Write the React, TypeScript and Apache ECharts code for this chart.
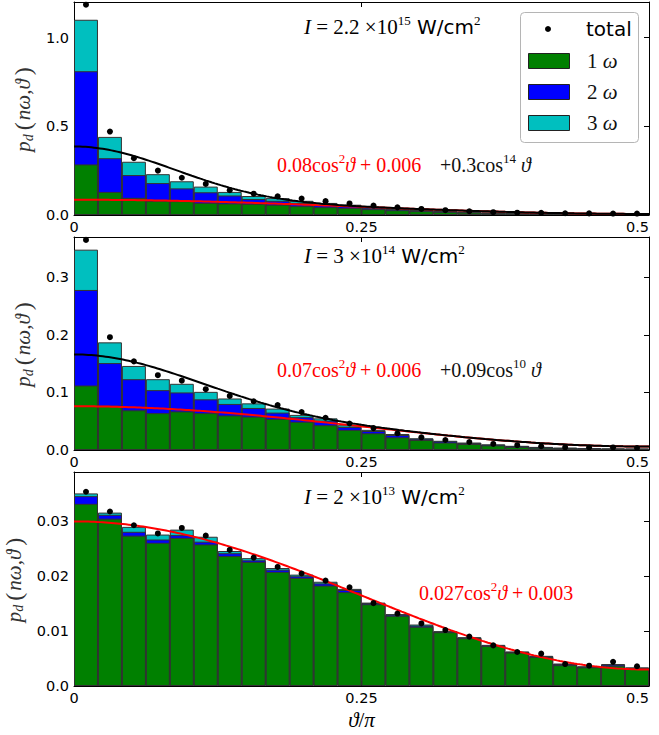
import React, { useEffect, useRef } from "react";
import * as echarts from "echarts";

// ---- data ----
const NBINS = 24; // bins over theta/pi in [0, 0.5]
const thetaBins = Array.from({ length: NBINS }, (_, k) => ((k + 0.5) * 0.5) / NBINS);

// Panel 1: I = 2.2e15 W/cm^2
const omega1_p1 = [0.285, 0.13, 0.097, 0.08, 0.078, 0.068, 0.065, 0.062, 0.058, 0.05, 0.044, 0.04, 0.033, 0.027, 0.022, 0.018, 0.014, 0.011, 0.009, 0.008, 0.007, 0.0065, 0.006, 0.006];
const omega2_p1 = [0.525, 0.19, 0.128, 0.1, 0.072, 0.06, 0.045, 0.028, 0.022, 0.018, 0.012, 0.01, 0.008, 0.007, 0.006, 0.004, 0.003, 0.002, 0.002, 0.0015, 0.001, 0.001, 0.0008, 0.0007];
const omega3_p1 = [0.29, 0.12, 0.075, 0.05, 0.04, 0.032, 0.02, 0.017, 0.015, 0.012, 0.012, 0.008, 0.006, 0.005, 0.004, 0.003, 0.002, 0.002, 0.001, 0.001, 0.001, 0.0005, 0.0005, 0.0004];
const total_p1 = [1.185, 0.47, 0.32, 0.25, 0.21, 0.175, 0.14, 0.12, 0.105, 0.093, 0.078, 0.065, 0.053, 0.043, 0.034, 0.027, 0.021, 0.016, 0.013, 0.012, 0.01, 0.009, 0.008, 0.008];

// Panel 2: I = 3e14 W/cm^2
const omega1_p2 = [0.112, 0.077, 0.069, 0.064, 0.067, 0.064, 0.06, 0.058, 0.054, 0.049, 0.043, 0.035, 0.029, 0.022, 0.0174, 0.013, 0.0104, 0.008, 0.0055, 0.004, 0.003, 0.0025, 0.002, 0.002];
const omega2_p2 = [0.166, 0.074, 0.054, 0.04, 0.033, 0.024, 0.02, 0.015, 0.011, 0.008, 0.008, 0.005, 0.004, 0.004, 0.002, 0.002, 0.0016, 0.0012, 0.0012, 0.001, 0.0008, 0.0007, 0.0006, 0.0004];
const omega3_p2 = [0.07, 0.036, 0.023, 0.019, 0.015, 0.013, 0.0095, 0.008, 0.007, 0.004, 0.004, 0.003, 0.002, 0.0018, 0.001, 0.001, 0.001, 0.0006, 0.0006, 0.0004, 0.0003, 0.0002, 0.0002, 0.0001];
const total_p2 = [0.365, 0.196, 0.154, 0.13, 0.1205, 0.1056, 0.094, 0.0847, 0.078, 0.066, 0.056, 0.046, 0.038, 0.029, 0.022, 0.0174, 0.0139, 0.0105, 0.0083, 0.0065, 0.0046, 0.0045, 0.0045, 0.0035];

// Panel 3: I = 2e13 W/cm^2
const omega1_p3 = [0.0332, 0.0305, 0.0274, 0.0261, 0.027, 0.0258, 0.0237, 0.0226, 0.0208, 0.0197, 0.0183, 0.0171, 0.0149, 0.0128, 0.0108, 0.0098, 0.0087, 0.0073, 0.0061, 0.0053, 0.0038, 0.0034, 0.0037, 0.0032];
const omega2_p3 = [0.0014, 0.0007, 0.0007, 0.0006, 0.0005, 0.0005, 0.0005, 0.0003, 0.0004, 0.0003, 0.0004, 0.0004, 0.0002, 0.0002, 0.0002, 0.0001, 0.0001, 0.0001, 0.0001, 0.0001, 0.0002, 0.0001, 0.0002, 0.0001];
const omega3_p3 = [0.0005, 0.0004, 0.0009, 0.0009, 0.001, 0.0009, 0.0004, 0.0004, 0.0003, 0.0003, 0.0003, 0.0002, 0.0001, 0.0001, 0.0002, 0.0001, 0.0001, 0.0001, 0.0001, 0.0001, 0.0001, 0.0001, 0.0001, 0.0001];
const total_p3 = [0.0354, 0.0318, 0.0293, 0.0278, 0.0288, 0.0274, 0.0248, 0.0234, 0.0217, 0.0205, 0.0192, 0.018, 0.0151, 0.0132, 0.0114, 0.0102, 0.009, 0.0074, 0.0062, 0.0059, 0.004, 0.0037, 0.0044, 0.0036];

// Fit coefficients printed in the chart: a*cos^2 + b  (+ c*cos^n)
const redFitA = [0.08, 0.07, 0.027];
const redFitB = [0.006, 0.006, 0.003];
const extraFitC = [0.3, 0.09, 0];
const extraFitN = [14, 10, 0];

const xTicks = [0, 0.25, 0.5];
const yMax = [1.2, 0.37, 0.039];
const yStep = [0.5, 0.1, 0.01];

const panels = [
  { g: omega1_p1, b: omega2_p1, c: omega3_p1, t: total_p1 },
  { g: omega1_p2, b: omega2_p2, c: omega3_p2, t: total_p2 },
  { g: omega1_p3, b: omega2_p3, c: omega3_p3, t: total_p3 },
];

const GREEN = "#008000";
const BLUE = "#0000ff";
const CYAN = "#00bfbf";
const RED = "#ff0000";

const SERIF = "Liberation Serif";
const SANS = "DejaVu Sans";

const gridTops = [2, 237, 472];
const gridHeights = [213, 213, 214];
const LEFT = 74;
const RIGHT = 10;

function fitCurve(i: number, withExtra: boolean) {
  const pts: number[][] = [];
  for (let j = 0; j <= 200; j++) {
    const x = (0.5 * j) / 200;
    const c = Math.cos(x * Math.PI);
    let v = redFitA[i] * c * c + redFitB[i];
    if (withExtra) v += extraFitC[i] * Math.pow(c, extraFitN[i]);
    pts.push([x, v]);
  }
  return pts;
}

const mainRich = {
  it: { fontFamily: SERIF, fontStyle: "italic", fontSize: 21, lineHeight: 26, fill: "#000" },
  n: { fontFamily: SERIF, fontSize: 21, lineHeight: 26, fill: "#000" },
  sup: { fontFamily: SERIF, fontSize: 13, lineHeight: 13, verticalAlign: "top", fill: "#000" },
  w: { fontFamily: SANS, fontSize: 20, lineHeight: 26, fill: "#000" },
  r: { fontFamily: SERIF, fontSize: 20, lineHeight: 26, fill: RED },
  ri: { fontFamily: SERIF, fontStyle: "italic", fontSize: 20, lineHeight: 26, fill: RED },
  rsup: { fontFamily: SERIF, fontSize: 13, lineHeight: 13, verticalAlign: "top", fill: RED },
  k: { fontFamily: SERIF, fontSize: 20, lineHeight: 26, fill: "#111" },
  ki: { fontFamily: SERIF, fontStyle: "italic", fontSize: 20, lineHeight: 26, fill: "#111" },
  ksup: { fontFamily: SERIF, fontSize: 13, lineHeight: 13, verticalAlign: "top", fill: "#111" },
};

function txt(x: number, y: number, text: string) {
  return {
    type: "text",
    x,
    y,
    z: 50,
    style: { text, rich: mainRich, verticalAlign: "middle", align: "left" },
  };
}

export default function App() {
  const ref = useRef<HTMLDivElement>(null);
  useEffect(() => {
    if (!ref.current) return;
    const chart = echarts.init(ref.current, undefined, { renderer: "svg" });

    const grid: any[] = [];
    const xAxis: any[] = [];
    const yAxis: any[] = [];
    const series: any[] = [];
    const barW = (659 - LEFT - RIGHT) / NBINS;

    panels.forEach((p, i) => {
      grid.push({
        left: LEFT,
        right: RIGHT,
        top: gridTops[i],
        height: gridHeights[i],
        show: false,
        containLabel: false,
        outerBoundsMode: "none",
      });
      const xBase = {
        type: "value",
        gridIndex: i,
        min: 0,
        max: 0.5,
        interval: 0.25,
        splitLine: { show: false },
        axisLine: { show: true, onZero: false, lineStyle: { color: "#000", width: 1 } },
        axisTick: { show: true, inside: true, length: 5, lineStyle: { color: "#000" } },
      };
      xAxis.push({
        ...xBase,
        position: "bottom",
        axisLabel: {
          show: true,
          margin: 4,
          fontFamily: SANS,
          fontSize: 14.5,
          color: "#000",
          alignMaxLabel: "right",
          formatter: (v: number) => (xTicks.includes(v) ? (v === 0 ? "0" : String(v)) : ""),
        },
        ...(i === 2
          ? {
              name: "{i|ϑ}{n|/}{i|π}",
              nameLocation: "middle",
              nameGap: 23,
              nameTextStyle: {
                rich: {
                  i: { fontFamily: SERIF, fontStyle: "italic", fontSize: 21, color: "#000" },
                  n: { fontFamily: SERIF, fontSize: 21, color: "#000" },
                },
              },
            }
          : {}),
      });
      xAxis.push({ ...xBase, position: "top", axisLabel: { show: false } });

      const step = yStep[i];
      const fmt = (v: number) => {
        const k = Math.round(v / step);
        if (Math.abs(k * step - v) > step * 1e-6) return "";
        if (k === 0) return "0.0";
        return i === 2 ? v.toFixed(2) : v.toFixed(1);
      };
      const yBase = {
        type: "value",
        gridIndex: i,
        min: 0,
        max: yMax[i],
        interval: step,
        splitLine: { show: false },
        axisLine: { show: true, onZero: false, lineStyle: { color: "#000", width: 1 } },
        axisTick: { show: true, inside: true, length: 5, lineStyle: { color: "#000" } },
      };
      yAxis.push({
        ...yBase,
        position: "left",
        axisLabel: {
          show: true,
          margin: 5,
          fontFamily: SANS,
          fontSize: 14.5,
          color: "#000",
          showMaxLabel: false,
          formatter: fmt,
        },
        name: "{p|p}{d|d}{b|(}{p|nω,ϑ}{b|)}",
        nameLocation: "middle",
        nameRotate: 90,
        nameGap: 33,
        nameTextStyle: {
          rich: {
            p: { fontFamily: SERIF, fontStyle: "italic", fontSize: 21, lineHeight: 24, color: "#333" },
            d: { fontFamily: SERIF, fontStyle: "italic", fontSize: 14, lineHeight: 14, verticalAlign: "bottom", color: "#333" },
            b: { fontFamily: SERIF, fontSize: 24, lineHeight: 24, color: "#333", padding: [0, 2, 0, 4] },
          },
        },
      });
      yAxis.push({ ...yBase, position: "right", axisLabel: { show: false } });

      const xIdx = i * 2;
      const yIdx = i * 2;
      // stacked bars: each layer drawn from 0 up to its cumulative top, tallest first
      const barCommon = {
        type: "bar",
        xAxisIndex: xIdx,
        yAxisIndex: yIdx,
        barWidth: barW,
        barGap: "-100%",
      };
      const mk = (arr: number[]) => arr.map((v, k) => [thetaBins[k], v]);
      const cumG = p.g;
      const cumB = p.g.map((v, k) => v + p.b[k]);
      const cumC = cumB.map((v, k) => v + p.c[k]);
      series.push({ ...barCommon, name: "3 ω", data: mk(cumC), itemStyle: { color: CYAN, borderColor: "#333", borderWidth: 1 } });
      series.push({ ...barCommon, name: "2 ω", data: mk(cumB), itemStyle: { color: BLUE, borderColor: "#333", borderWidth: 1 } });
      series.push({ ...barCommon, name: "1 ω", data: mk(cumG), itemStyle: { color: GREEN, borderColor: "#333", borderWidth: 1 } });
      series.push({
        type: "line",
        xAxisIndex: xIdx,
        yAxisIndex: yIdx,
        data: fitCurve(i, false),
        showSymbol: false,
        lineStyle: { color: RED, width: 2 },
        z: 4,
      });
      if (extraFitC[i] > 0) {
        series.push({
          type: "line",
          xAxisIndex: xIdx,
          yAxisIndex: yIdx,
          data: fitCurve(i, true),
          showSymbol: false,
          lineStyle: { color: "#000", width: 2 },
          z: 4,
        });
      }
      series.push({
        type: "scatter",
        name: "total",
        xAxisIndex: xIdx,
        yAxisIndex: yIdx,
        data: mk(p.t),
        symbolSize: 6,
        itemStyle: { color: "#000", opacity: 1 },
        z: 5,
      });
    });

    const graphic: any[] = [
      txt(304, 27, "{it|I}{n| = 2.2 ×10}{sup|15}{w| W/cm}{sup|2}"),
      txt(277, 165, "{r|0.08cos}{rsup|2}{ri|ϑ}{r| + 0.006}"),
      txt(440, 165, "{k|+0.3cos}{ksup|14}{ki| ϑ}"),
      txt(304, 256, "{it|I}{n| = 3 ×10}{sup|14}{w| W/cm}{sup|2}"),
      txt(277, 370, "{r|0.07cos}{rsup|2}{ri|ϑ}{r| + 0.006}"),
      txt(440, 370, "{k|+0.09cos}{ksup|10}{ki| ϑ}"),
      txt(304, 497, "{it|I}{n| = 2 ×10}{sup|13}{w| W/cm}{sup|2}"),
      txt(419, 593, "{r|0.027cos}{rsup|2}{ri|ϑ}{r| + 0.003}"),
      // legend
      {
        type: "rect",
        z: 60,
        shape: { x: 520.5, y: 12.5, width: 118, height: 130, r: 4 },
        style: { fill: "#fff", stroke: "#b5b5b5", lineWidth: 1 },
      },
      { type: "circle", z: 61, shape: { cx: 548, cy: 29, r: 3 }, style: { fill: "#000" } },
      {
        type: "text",
        z: 61,
        x: 586,
        y: 29,
        style: { text: "total", fontFamily: SANS, fontSize: 20, fill: "#000", verticalAlign: "middle" },
      },
      ...[
        { c: GREEN, y: 53, label: "1" },
        { c: BLUE, y: 84, label: "2" },
        { c: CYAN, y: 115, label: "3" },
      ].flatMap((e) => [
        {
          type: "rect",
          z: 61,
          shape: { x: 528.5, y: e.y + 0.5, width: 41, height: 15 },
          style: { fill: e.c, stroke: "#222", lineWidth: 1 },
        },
        {
          type: "text",
          z: 61,
          x: 587,
          y: e.y + 8,
          style: {
            text: `{n|${e.label} }{i|ω}`,
            verticalAlign: "middle",
            rich: {
              n: { fontFamily: SERIF, fontSize: 21, fill: "#111" },
              i: { fontFamily: SERIF, fontStyle: "italic", fontSize: 21, fill: "#111" },
            },
          },
        },
      ]),
    ];

    chart.setOption({
      animation: false,
      backgroundColor: "#fff",
      grid,
      xAxis,
      yAxis,
      series,
      graphic,
    });
    return () => chart.dispose();
  }, []);

  return (
    <div
      ref={ref}
      style={{ position: "fixed", left: 0, top: 0, width: 659, height: 735, background: "#fff" }}
    />
  );
}
